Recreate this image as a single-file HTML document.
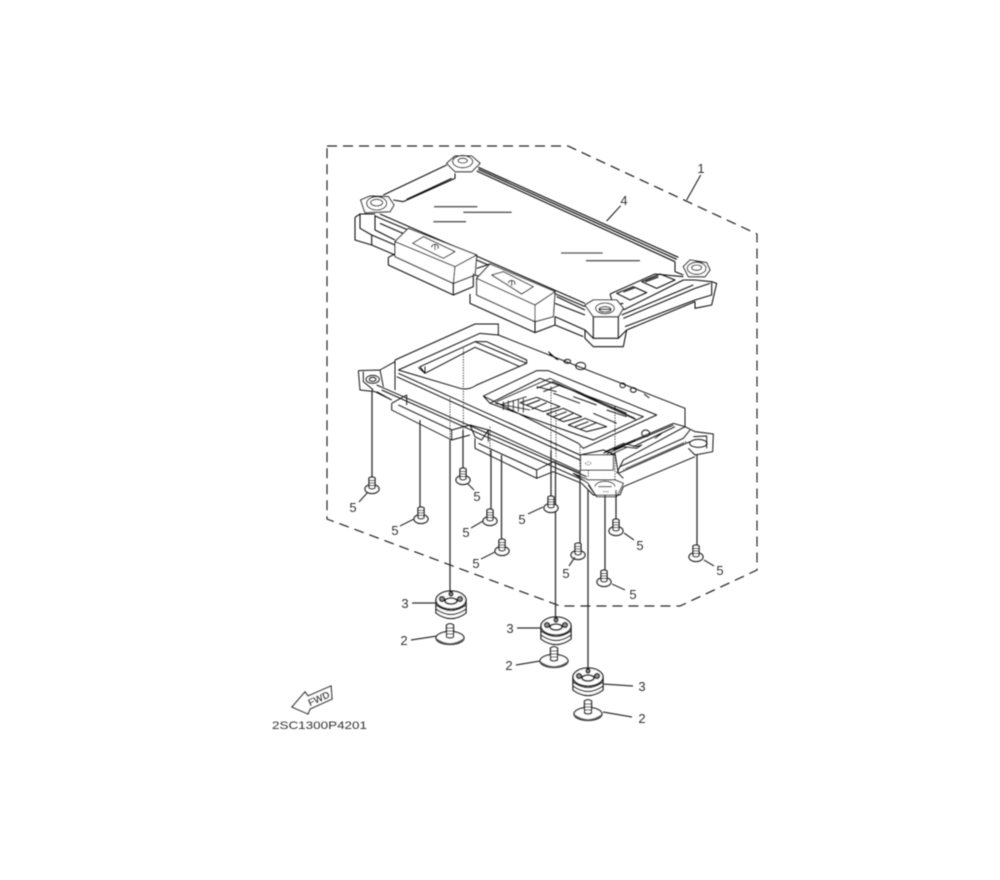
<!DOCTYPE html>
<html><head><meta charset="utf-8"><style>
html,body{margin:0;padding:0;background:#fff}
svg{display:block}
text{font-family:"Liberation Sans",sans-serif;fill:#333}
</style></head><body>
<svg width="1000" height="880" viewBox="0 0 1000 880" xmlns="http://www.w3.org/2000/svg">
<defs>
<filter id="b" x="-5%" y="-5%" width="110%" height="110%"><feGaussianBlur stdDeviation="0.4"/></filter>
<g id="screw" fill="#fff" stroke="#111" stroke-width="1.300">
<ellipse cx="0" cy="5" rx="7" ry="4.500"/>
<path d="M-3 -6V4Q0 6 3 4V-6Q0 -8 -3 -6Z"/>
<path d="M-3 -3.500H3M-3 -1H3M-3 1.500H3" stroke-width="1"/>
</g>
<g id="grommet" fill="#fff" stroke="#111" stroke-width="1.300">
<path d="M-15 -4V9Q0 20 15 9V-4Z"/>
<path d="M-15 1Q0 12 15 1M-15 5Q0 16 15 5" fill="none"/>
<ellipse cx="0" cy="-4" rx="15" ry="9"/>
<ellipse cx="0" cy="-3" rx="6" ry="3" stroke-width="1.600"/>
<circle cx="-9" cy="-5" r="2.500" fill="#888"/><circle cx="9" cy="-5" r="2.500" fill="#888"/><circle cx="0" cy="-10" r="2" fill="#888"/>
</g>
<g id="bolt" fill="#fff" stroke="#111" stroke-width="1.300">
<ellipse cx="0" cy="3" rx="14" ry="6.500"/>
<path d="M-14 4Q0 14 14 4" fill="none" stroke-width="1.800" stroke="#555"/>
<path d="M-3.500 -10V2Q0 4 3.500 2V-10Q0 -12.500 -3.500 -10Z"/>
<path d="M-3.500 -7H3.500M-3.500 -4H3.500M-3.500 -1H3.500" stroke-width="1.100"/>
</g>
</defs>
<rect width="1000" height="880" fill="#fff"/>
<g filter="url(#b)">
<!-- dashed boundary -->
<path d="M327 146H568L757 234V570L680 606H560L327 519Z" fill="none" stroke="#222" stroke-width="1.200" stroke-dasharray="10 6"/>

<!-- upper cover -->
<g transform="translate(340,140) scale(.33333)" fill="none" stroke="#111" stroke-width="3.200" stroke-linejoin="round">
<path d="M130 165L320 75M190 185L345 115V100M200 178L335 115M160 180L190 185"/>
<path d="M415 82L1015 352M410 93L1005 365M415 88L1010 358" stroke-width="3.500"/>
<path d="M1005 365V395L1030 405M120 222L735 490M105 228L200 268"/>
<path d="M810 462L945 402L1030 410M810 462L820 495L850 490"/>
<path d="M830 460L880 440L920 458L870 480ZM905 425L960 402L1005 420L950 445Z"/>
<path d="M850 455L885 442M915 425L955 410" stroke-width="6" stroke="#444"/>
<!-- left end -->
<path d="M45 232V300L95 315L165 345M45 232L60 222V265L95 285L165 315M95 285V315M105 225V270L165 300M60 222H105"/>
<path d="M120 250L200 285"/>
<!-- housing 1 -->
<path d="M205 265L410 345L405 405L340 430L165 350V305Z" fill="#fff"/>
<path d="M165 305L345 380L340 430M345 380L410 345"/>
<path d="M218 310L250 290L345 335L310 355Z"/>
<path d="M275 322a10 8 0 1 1 18 4M285 312V330"/>
<path d="M145 352V375L340 465L400 440V400M145 352L165 342M340 430V465"/>
<!-- housing 2 -->
<path d="M410 360L735 500M410 385L450 372M405 405L450 420"/>
<path d="M450 372L645 455L640 530L585 545L410 465V415Z" fill="#fff"/>
<path d="M410 415L585 495V545M585 495L645 455"/>
<path d="M455 405L490 395L580 440L545 462Z"/>
<path d="M505 430a10 8 0 1 1 18 4M515 420V438"/>
<path d="M390 462V490L585 578L645 555L730 590M585 545V578M645 530V555"/>
<path d="M650 470L735 510M645 490L735 525M645 530L735 570V595L760 620H850L860 570L1065 485V505L1115 495L1130 430L1115 425V465L1065 480L855 560"/>
<path d="M735 570L760 595H835L860 570"/>
<!-- bottom nut -->
<path d="M735 495L760 480H830L850 505L835 530H760Z" fill="#fff"/>
<path d="M760 530V595M835 530V595"/>
<ellipse cx="795" cy="505" rx="28" ry="16"/><ellipse cx="795" cy="508" rx="18" ry="8"/>
<path d="M777 508H813" stroke-width="4"/>
<path d="M850 510L1030 420H1065L1115 425M850 535L1065 445L1110 430M845 525L1060 435"/>
<!-- right nut -->
<path d="M1030 380L1050 360L1100 368L1110 390L1095 410L1045 410Z" fill="#fff"/>
<ellipse cx="1070" cy="385" rx="28" ry="18"/><ellipse cx="1070" cy="383" rx="15" ry="8"/>
<!-- left nut -->
<path d="M62 180L90 168L145 170L162 195L150 215L75 218Z" fill="#fff"/>
<ellipse cx="110" cy="190" rx="30" ry="20"/><ellipse cx="110" cy="188" rx="18" ry="10"/>
<!-- top nut -->
<path d="M320 70L345 48H395L420 70L395 95H345Z" fill="#fff"/>
<ellipse cx="368" cy="65" rx="30" ry="18"/><ellipse cx="368" cy="62" rx="14" ry="7"/>
<!-- reflection lines -->
<path d="M282 200H412M370 217H515M280 245H378M663 339H788M738 362H900" stroke="#555" stroke-width="4"/>
<!-- leaders -->
<path d="M800 243L842 197M1040 180L1082 105" stroke-width="3"/>
</g>

<!-- lower case -->
<g transform="translate(340,310) scale(.33333)" fill="none" stroke="#111" stroke-width="2.900" stroke-linejoin="round">
<path d="M165 150L405 42H475V75L1035 295V350L850 450L830 490"/>
<path d="M165 150V240M55 182L60 240L105 245L155 270M55 182L120 180L165 155M70 185V215L100 240M120 180L130 230"/>
<ellipse cx="98" cy="208" rx="20" ry="12"/><ellipse cx="98" cy="208" rx="10" ry="6"/>
<path d="M175 180L420 70L475 75M175 180L360 235Q385 242 410 225L560 160L405 95L240 170L255 190L405 112L540 170"/>
<path d="M255 190V170M235 172L255 190M405 95H440L560 150V160"/>
<path d="M175 190L720 435M170 200L720 450M110 225L740 500M125 240L740 515"/>
<!-- display window -->
<path d="M430 258L590 182H625L950 315L730 415L715 400ZM430 258L450 280L600 205L910 320L760 390L715 375L450 280"/>
<path d="M470 275L630 205L885 325M465 280L570 300M480 285L560 260M490 275V300M505 272V300M520 270V305M535 268V305M550 265V308" stroke-width="2.400"/>
<path d="M540 278L590 262L660 290L610 305ZM560 285L600 270M575 298L620 278M620 312L670 295L725 320L670 335ZM640 320L680 305M655 330L700 310M685 345L735 325L800 350L740 365ZM705 350L745 335M720 358L770 338" stroke-width="3"/>
<path d="M590 235L640 215L890 330M610 245L660 225L860 310M700 260L770 285M590 230L650 245M800 300L860 320M640 250L720 280M760 310L830 340" stroke-width="2.800"/>
<!-- symbols -->
<path d="M625 125L650 148M628 132L655 150" stroke-width="3"/><ellipse cx="682" cy="154" rx="10" ry="6"/><ellipse cx="722" cy="168" rx="15" ry="11"/>
<ellipse cx="848" cy="226" rx="8" ry="7"/><ellipse cx="880" cy="240" rx="9" ry="7"/><path d="M912 252L928 264"/>
<!-- right lower panel -->
<path d="M790 430L1000 340L1035 350M820 420L1000 345M840 470L1030 385L1050 360M835 490L1050 395"/>
<path d="M850 480L1040 395M860 476L1030 400" stroke="#666" stroke-width="5" stroke-dasharray="4 3"/>
<path d="M795 425L850 400L890 410L905 405L890 415L850 410M800 432L850 410M810 435L860 412" stroke-width="2.600"/>
<path d="M880 410L1005 350M905 370a12 10 0 1 0 24 0a12 10 0 1 0 -24 0M945 385L965 370"/>
<!-- lug right -->
<path d="M1035 350L1065 365L1120 372L1118 425L1065 435L1045 415"/>
<ellipse cx="1075" cy="400" rx="26" ry="12"/><path d="M1060 380L1100 378V415"/>
<!-- centre nut -->
<path d="M722 435H820V480H722Z" fill="#fff"/>
<path d="M735 460l10 -6l10 6l-10 6z" stroke-dasharray="3 3" stroke-width="2.400"/>
<path d="M720 435L790 420L825 435M825 430L835 490L850 505"/>
<path d="M745 510H825L850 520L830 560H770L745 520L700 490Z" fill="#fff"/>
<path d="M765 530a30 16 0 0 1 60 0M775 530H815"/><path d="M770 560L745 525"/>
<path d="M790 545L805 545" stroke-dasharray="3 3"/>
<!-- front flanges -->
<path d="M155 280L200 255V285M155 280V300L335 390L390 375M335 360V390M175 285L335 360L390 345L445 360L425 390L405 380L390 345"/>
<path d="M405 385V415L590 505L640 485L725 520L760 555H840L850 530L1065 440"/>
<path d="M415 400L590 480L640 455L720 490M590 480V505"/>
<path d="M445 360V395"/>
<path d="M110 245L155 270M445 360L720 485"/>
<!-- dotted inner parts of verticals -->
<path d="M370 115V360M330 265V395M450 350V440M485 445V480M633 230V425M648 300V445M720 410V475M745 480V500M825 290V510" stroke-width="2.400" stroke-dasharray="4 4"/>
</g>

<!-- vertical lines -->
<g stroke="#333" stroke-width="1.300" fill="none">
<path d="M372 390V480M420 420V508M463 430V470M491 450V512M501.500 455V540M450 440V600M551 450V497M555.500 460V618M580 470V545M588 490V668M605 495V572M616 490V520M697 455V548"/>
</g>

<use href="#screw" x="372" y="484"/><use href="#screw" x="421" y="514"/><use href="#screw" x="463" y="475"/>
<use href="#screw" x="490" y="516"/><use href="#screw" x="502" y="546"/><use href="#screw" x="551" y="503"/>
<use href="#screw" x="578" y="550"/><use href="#screw" x="616" y="526"/><use href="#screw" x="604" y="577"/><use href="#screw" x="696" y="552"/>

<use href="#grommet" x="451" y="604"/><use href="#grommet" x="556" y="630"/><use href="#grommet" x="588" y="681"/>
<use href="#bolt" x="450" y="635"/><use href="#bolt" x="554" y="658"/><use href="#bolt" x="588" y="711"/>

<!-- leaders -->
<g stroke="#333" stroke-width="1.200" fill="none">
<path d="M359 502L368 492M400 526L414 519M467 483L474 490M471 528L483 521M481 559L495 552M528 514L543 507M569 566L575 557M624 533L634 540M612 584L625 590M704 560L714 566"/>
<path d="M412 603H436M517 628H541M603 684L633 686M411 640L437 636M516 665L540 661M603 712L632 717"/>
</g>

<!-- labels -->
<g font-size="13" text-anchor="middle">
<text x="701" y="173">1</text><text x="624" y="205">4</text>
<text x="353" y="512">5</text><text x="395" y="535">5</text><text x="477" y="501">5</text><text x="466" y="537">5</text>
<text x="476" y="568">5</text><text x="522" y="524">5</text><text x="566" y="578">5</text><text x="640" y="550">5</text>
<text x="633" y="599">5</text><text x="720" y="575">5</text>
<text x="405" y="608">3</text><text x="510" y="633">3</text><text x="642" y="691">3</text>
<text x="404" y="645">2</text><text x="509" y="670">2</text><text x="642" y="723">2</text>
</g>

<!-- FWD -->
<path d="M292 707L305 692L308 696L331 686L332 699L310 709L308 714Z" fill="#fff" stroke="#222" stroke-width="1.200"/>
<text x="319" y="702" font-size="10" font-weight="bold" text-anchor="middle" transform="rotate(-24 319 699)">FWD</text>
<text x="272" y="729" font-size="11" textLength="95" lengthAdjust="spacingAndGlyphs">2SC1300P4201</text>
</g>
</svg>
</body></html>
